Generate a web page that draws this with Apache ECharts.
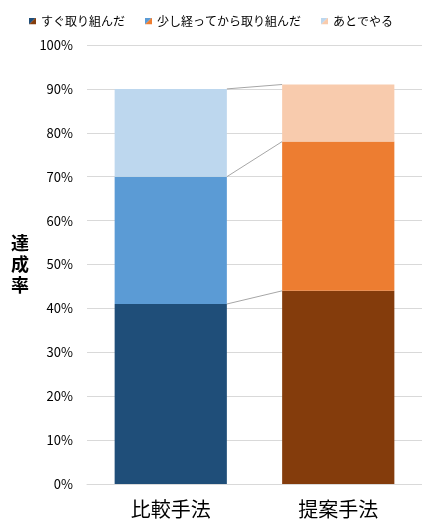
<!DOCTYPE html>
<html>
<head>
<meta charset="utf-8">
<script src="https://cdn.jsdelivr.net/npm/echarts@6/dist/echarts.min.js"></script>
<style>
  html, body { margin: 0; padding: 0; background: #fff; }
  #chart { width: 422px; height: 522px; }
</style>
</head>
<body>
<div id="chart"></div>
<script>
const categories = ['比較手法', '提案手法'];
const seriesNames = ['すぐ取り組んだ', '少し経ってから取り組んだ', 'あとでやる'];
const immediate = [41, 44];
const later = [29, 34];
const afterwards = [20, 13];
const yTicks = [0, 10, 20, 30, 40, 50, 60, 70, 80, 90, 100];

const blues = ['#1F4E79', '#5B9BD5', '#BDD7EE'];
const oranges = ['#843C0C', '#ED7D31', '#F8CBAD'];
const font = '"Noto Sans CJK JP", "Noto Sans", sans-serif';

// legend icon split diagonally: blue top-left, orange bottom-right
const splitIcon = (a, b) => {
  const svg = `<svg xmlns="http://www.w3.org/2000/svg" width="10" height="10">` +
    `<polygon points="0,0 10,0 0,10" fill="${a}"/>` +
    `<polygon points="10,0 10,10 0,10" fill="${b}"/></svg>`;
  return 'image://data:image/svg+xml;charset=utf-8,' + encodeURIComponent(svg);
};

const levels = [immediate, later, afterwards];
const cumulative = [];
let runA = 0, runB = 0;
levels.forEach((vals) => {
  runA += vals[0];
  runB += vals[1];
  cumulative.push([0, runA, runB]);
});

const barRatio = 0.67;

const barSeries = levels.map((vals, i) => ({
  name: seriesNames[i],
  type: 'bar',
  stack: 'total',
  barWidth: barRatio * 100 + '%',
  data: vals.map((v, j) => ({
    value: v,
    itemStyle: { color: j === 0 ? blues[i] : oranges[i] }
  }))
}));

const connectors = {
  type: 'custom',
  silent: true,
  z: 1,
  encode: { x: 0, y: 1 },
  data: cumulative,
  renderItem: (params, api) => {
    const p0 = api.coord([0, api.value(1)]);
    const p1 = api.coord([1, api.value(2)]);
    const hw = api.size([1, 0])[0] * barRatio / 2;
    return {
      type: 'line',
      shape: { x1: p0[0] + hw, y1: p0[1], x2: p1[0] - hw, y2: p1[1] },
      style: { stroke: '#a6a6a6', lineWidth: 1 }
    };
  }
};

const chart = echarts.init(document.getElementById('chart'));
chart.setOption({
  animation: false,
  textStyle: { fontFamily: font },
  legend: {
    top: 10,
    left: 'center',
    itemWidth: 7,
    itemHeight: 7,
    itemGap: 20,
    textStyle: { fontSize: 12, color: '#000', fontFamily: font },
    data: seriesNames.map((n, i) => ({ name: n, icon: splitIcon(blues[i], oranges[i]) }))
  },
  grid: { left: 87, width: 338, top: 45, bottom: 38 },
  xAxis: {
    type: 'category',
    data: categories,
    axisLine: { lineStyle: { color: '#d9d9d9' } },
    axisTick: { show: false },
    axisLabel: { fontSize: 20, color: '#000', margin: 15, fontFamily: font }
  },
  yAxis: {
    type: 'value',
    min: yTicks[0],
    max: yTicks[yTicks.length - 1],
    interval: 10,
    name: '達\n成\n率',
    nameLocation: 'middle',
    nameRotate: 0,
    nameGap: 58,
    nameTextStyle: { fontSize: 18, fontWeight: 'bold', color: '#000', lineHeight: 21, fontFamily: font },
    axisLabel: { formatter: '{value}%', fontSize: 13, color: '#000', margin: 14, fontFamily: font },
    splitLine: { lineStyle: { color: '#d9d9d9' } }
  },
  series: [...barSeries, connectors]
});
</script>
</body>
</html>
